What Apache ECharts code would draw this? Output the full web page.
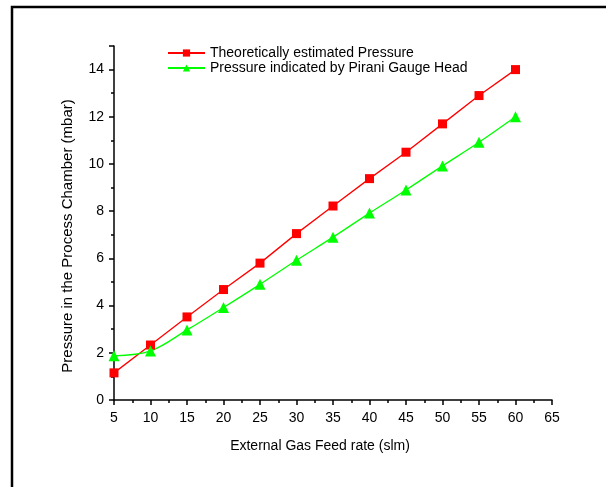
<!DOCTYPE html>
<html>
<head>
<meta charset="utf-8">
<script src="https://cdn.jsdelivr.net/npm/echarts@6/dist/echarts.min.js"></script>
<style>
    html, body { margin: 0; padding: 0; background: #fff; }
    #chart { width: 606px; height: 487px; }
</style>
</head>
<body>
<div id="chart"></div>
<script>
// data
var feedRate = [5, 10, 15, 20, 25, 30, 35, 40, 45, 50, 55, 60];
var theoretical = [1.15, 2.33, 3.52, 4.68, 5.8, 7.05, 8.22, 9.38, 10.5, 11.7, 12.9, 14.0];
var pirani = [1.87, 2.08, 2.97, 3.92, 4.9, 5.92, 6.9, 7.92, 8.9, 9.92, 10.92, 12.0];
var seriesNames = ['Theoretically estimated Pressure', 'Pressure indicated by Pirani Gauge Head'];

function pairs(xs, ys) {
    var out = [];
    for (var i = 0; i < xs.length; i++) {
        out.push([xs[i], ys[i]]);
    }
    return out;
}

var font = 'Liberation Sans, Arial, sans-serif';
var fs = 14;
var chart = echarts.init(document.getElementById('chart'));

var option = {
    animation: false,
    textStyle: { fontFamily: font, color: '#000' },
    graphic: [{
        // frame round the figure (only top and left edges fall inside the picture)
        type: 'rect',
        shape: { x: 12, y: 7, width: 700, height: 600 },
        style: { fill: 'none', stroke: '#000', lineWidth: 2.5 },
        silent: true
    }],
    legend: {
        orient: 'vertical',
        left: 162,
        top: 41,
        itemWidth: 37,
        itemHeight: 9,
        itemGap: 1,
        textStyle: { fontFamily: font, fontSize: fs, color: '#000' },
        data: seriesNames
    },
    grid: {
        left: 114,
        right: 54,
        top: 46,
        bottom: 87,
        containLabel: false
    },
    xAxis: {
        type: 'value',
        min: 5,
        max: 65,
        interval: 5,
        name: 'External Gas Feed rate (slm)',
        nameLocation: 'middle',
        nameGap: 39,
        nameTextStyle: { fontFamily: font, fontSize: fs, color: '#000', padding: [0, 26, 0, 0] },
        splitLine: { show: false },
        axisLine: { lineStyle: { color: '#000', width: 1.5 } },
        axisTick: { length: 5, lineStyle: { color: '#000', width: 1.5 } },
        minorTick: { show: true, splitNumber: 2, length: 3, lineStyle: { color: '#000', width: 1.5 } },
        axisLabel: { fontFamily: font, fontSize: fs, color: '#000', margin: 11 }
    },
    yAxis: {
        type: 'value',
        min: 0,
        max: 15,
        interval: 2,
        name: 'Pressure in the Process Chamber (mbar)',
        nameLocation: 'middle',
        nameGap: 39,
        nameTextStyle: { fontFamily: font, fontSize: 15, color: '#000', padding: [0, 26, 0, 0] },
        splitLine: { show: false },
        axisLine: { lineStyle: { color: '#000', width: 1.5 } },
        axisTick: { length: 5, lineStyle: { color: '#000', width: 1.5 } },
        minorTick: { show: true, splitNumber: 2, length: 3, lineStyle: { color: '#000', width: 1.5 } },
        axisLabel: { fontFamily: font, fontSize: fs, color: '#000', margin: 10, showMaxLabel: false }
    },
    series: [
        {
            name: seriesNames[0],
            type: 'line',
            data: pairs(feedRate, theoretical),
            symbol: 'rect',
            symbolSize: 9,
            itemStyle: { color: '#ff0000' },
            lineStyle: { color: '#ff0000', width: 1.3 }
        },
        {
            name: seriesNames[1],
            type: 'line',
            data: pairs(feedRate, pirani),
            smooth: 0.35,
            symbol: 'triangle',
            symbolSize: 11,
            itemStyle: { color: '#00ff00' },
            lineStyle: { color: '#00ff00', width: 1.3 }
        }
    ]
};

chart.setOption(option);
</script>
</body>
</html>
